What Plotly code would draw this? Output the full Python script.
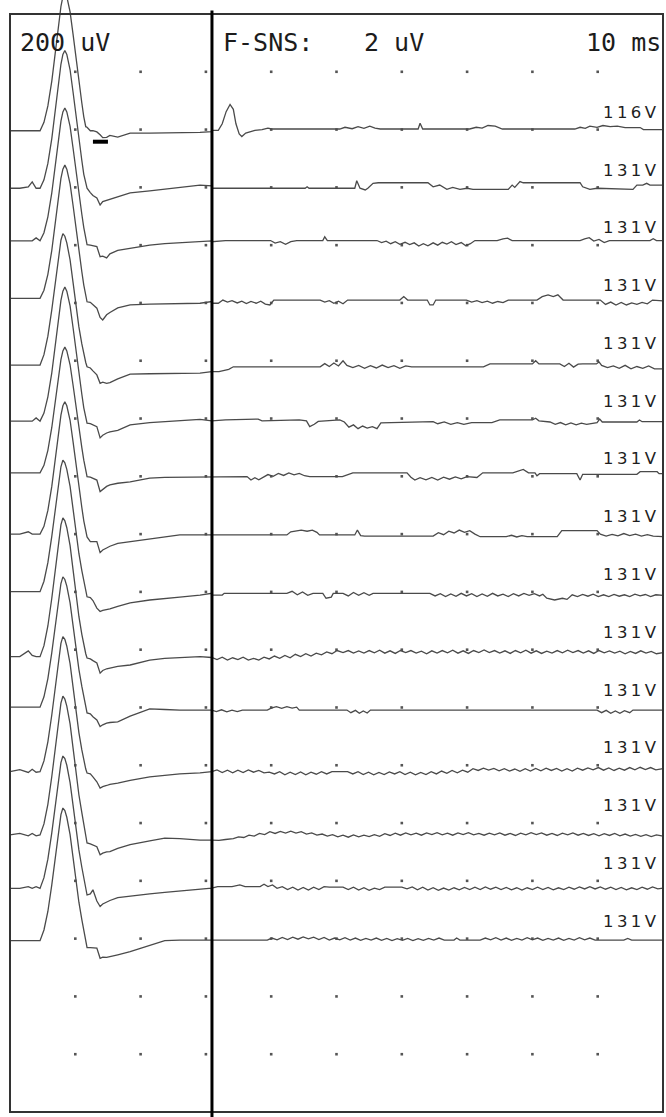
import plotly.graph_objects as go

# ---------------------------------------------------------------------------
# F-wave study: 15 consecutive sweeps, 10 ms/div, displayed at 200 uV/div
# ---------------------------------------------------------------------------
N_DIV_Y = 19          # vertical divisions of the screen
UV_PER_DIV = 200      # display gain
SWEEP_MS = 100        # 10 divisions x 10 ms

STIM_LABELS = ["116V"] + ["131V"] * 14
GAIN_TEXT = "200 uV"
F_SENS_TITLE = "F-SNS:"
F_SENS_TEXT = "2 uV"
TIMEBASE_TEXT = "10 ms"

# Divider between the M-response window and the F-wave window (ms)
F_WINDOW_START = 30.93

# Latency cursor under the first sweep: start / end time (ms), level (uV)
CURSOR_MS = [12.7, 15.0]
CURSOR_UV = -42

# Sample times (ms) for the early part of every sweep
M_TIMES = [0.0, 1.5, 2.8, 3.4, 4.0, 4.6, 5.2, 5.8, 6.4, 6.9, 7.35, 7.8, 8.1,
           8.4, 8.7, 9.2, 9.65, 10.1, 10.55, 11.0, 11.3, 11.6, 11.8, 12.3,
           12.7, 13.3, 13.8, 14.2, 14.8, 15.3, 16.5, 18.4, 21.4, 23.7, 26.0,
           29.1, 30.9]

# Early part (pre-stimulus, M-response, after-potential) in uV, one list per sweep
M_T01 = [-4, -4, -4, -4, -4,
         -4, 25, 82, 168, 259, 350, 426, 460, 474, 460, 407, 331, 245, 163, 92, 44, 10,
         8, -4, -4, -8, -18, -28, -27, -20, -26, -12, -12, -12, -12, -10, -7]
M_T02 = [-3, -3, 2, 19, -3,
         -3, 26, 83, 169, 259, 350, 426, 460, 474, 460, 407, 331, 245, 164, 93, 45, 11,
         -3, -18, -28, -37, -61, -49, -45, -40, -32, -19, -12, -6, 0, 8, 5]
M_T03 = [15, 15, 15, 15, 25,
         15, 43, 98, 181, 268, 355, 429, 461, 475, 461, 411, 337, 254, 176, 107, 61, 29,
         2, 0, -2, -5, -40, -38, -44, -30, -18, -10, 0, 5, 8, 12, 15]
M_T04 = [16, 16, 16, 16, 16,
         16, 44, 99, 182, 270, 357, 431, 463, 477, 463, 412, 339, 256, 177, 108, 62, 30,
         4, 2, -5, -18, -50, -59, -41, -33, -17, -7, -4, -3, -2, -1, 5]
M_T05 = [-15, -15, -15, -15, -15,
         -15, 21, 85, 176, 267, 349, 417, 440, 431, 408, 349, 272, 190, 117, 58, 21, -6,
         -21, -25, -35, -49, -78, -74, -78, -76, -63, -46, -45, -44, -43, -43, -38]
M_T06 = [-9, -9, -9, -9, 2,
         -9, 19, 75, 158, 246, 334, 409, 441, 455, 441, 390, 316, 232, 153, 84, 37, 5,
         -16, -18, -22, -28, -67, -58, -50, -46, -41, -22, -14, -10, -6, -3, -8]
M_T07 = [12, 12, 12, 12, 12,
         12, 38, 90, 169, 251, 334, 404, 434, 447, 434, 386, 317, 238, 164, 99, 56, 25,
         -1, -3, -8, -13, -53, -45, -35, -30, -24, -19, -6, -4, -3, -2, -2]
M_T08 = [0, 0, 8, 0, 0,
         0, 27, 82, 165, 252, 339, 412, 444, 458, 444, 394, 321, 238, 160, 92, 46, 14,
         -10, -26, -26, -26, -64, -55, -48, -42, -32, -26, -18, -10, -3, -3, -3]
M_T09 = [1, 1, 1, 1, 1,
         1, 37, 101, 192, 283, 365, 433, 456, 447, 424, 365, 288, 206, 133, 74, 37, 10,
         -17, -20, -30, -56, -68, -64, -62, -59, -50, -38, -28, -22, -18, -11, -5]
M_T10 = [-24, -24, -4, -20, -24,
         -24, 14, 82, 178, 274, 360, 432, 456, 446, 422, 360, 278, 192, 115, 53, 14, -14,
         -29, -32, -38, -46, -81, -72, -66, -63, -58, -53, -36, -30, -27, -24, -27]
M_T11 = [1, 1, 1, 1, 1,
         1, 37, 100, 190, 281, 362, 429, 452, 443, 420, 362, 285, 204, 132, 73, 37, 10,
         -19, -22, -32, -43, -66, -60, -54, -52, -50, -30, -5, -7, -9, -9, -9]
M_T12 = [-22, -15, -25, -14, -24,
         -22, 15, 81, 174, 268, 352, 422, 445, 436, 412, 352, 272, 188, 113, 53, 15, -13,
         -27, -30, -40, -57, -79, -74, -70, -66, -62, -52, -40, -35, -30, -26, -22]
M_T13 = [-41, -36, -44, -36, -44,
         -41, -3, 65, 161, 257, 343, 415, 439, 429, 405, 343, 261, 175, 98, 36, -3, -31,
         -69, -72, -76, -82, -110, -104, -100, -99, -88, -75, -62, -52, -54, -59, -59]
M_T14 = [-26, -26, -20, -26, -20,
         -26, 11, 75, 166, 258, 340, 409, 432, 423, 400, 340, 263, 180, 107, 47, 11, -17,
         -49, -45, -31, -70, -89, -80, -72, -68, -58, -52, -45, -40, -35, -29, -25]
M_T15 = [-7, -7, -7, -7, -7,
         -7, 30, 94, 186, 278, 360, 429, 452, 443, 420, 360, 282, 200, 126, 66, 30, 2,
         -31, -31, -31, -33, -68, -64, -65, -63, -56, -45, -22, -7, -5, -5, -5]

# F-wave window, (ms, uV) pairs per sweep
F_T01 = [(30.9, -3), (31.9, -3), (32.5, 20), (33.1, 62), (33.7, 87), (34.2, 70), (34.6, 20),
         (35.1, -15), (35.5, -24), (36.1, -12), (37.5, -3), (38.6, 0), (39.5, 5), (40.1, 2),
         (50.5, 2), (51.3, 8), (52.4, 3), (53.3, 10), (54.2, 4), (55.1, 12), (55.9, 5),
         (56.7, 2), (62.5, 2), (62.8, 22), (63.2, 2), (70.4, 2), (71.4, 8), (72.3, 5),
         (73.2, 14), (74.3, 12), (75.4, 2), (86.5, 2), (87.3, 8), (88.1, 4), (88.8, 12),
         (89.9, 8), (90.8, 14), (91.9, 10), (93.0, 12), (94.2, 7), (96.5, 7), (97.0, 0),
         (100.0, 0)]
F_T02 = [(30.9, -3), (45.2, -3), (45.5, 2), (45.8, -3), (52.8, -3), (53.1, 23), (53.6, -3),
         (54.4, -9), (54.8, -3), (55.6, 14), (56.4, 16), (64.0, 16), (64.8, 2), (65.8, 8),
         (66.9, -7), (67.8, 0), (68.9, -7), (70.0, -3), (70.9, -7), (76.3, -7), (76.9, 8),
         (77.3, 0), (78.1, 20), (78.6, 16), (87.3, 16), (87.7, 2), (88.8, -7), (89.9, -3),
         (95.4, -7), (96.0, 8), (96.9, 8), (97.5, 14), (98.0, 8), (100.0, 8)]
F_T03 = [(30.9, 12), (33.0, 16), (39.9, 16), (40.6, 7), (41.4, 12), (42.2, 3), (43.0, 12),
         (43.9, 16), (47.9, 16), (48.2, 29), (48.6, 16), (56.2, 16), (56.9, 9), (57.6, 14),
         (58.3, 5), (59.0, 12), (59.7, 3), (60.5, 10), (61.2, 2), (61.9, 8), (62.6, -3),
         (63.3, 5), (64.0, -2), (64.8, 8), (65.5, 0), (66.2, 10), (66.9, 4), (67.6, 12),
         (68.3, 2), (69.1, 9), (69.8, -2), (70.5, 5), (71.2, 16), (74.6, 16), (75.5, 22),
         (76.2, 24), (76.9, 16), (87.3, 16), (88.0, 22), (88.7, 26), (89.4, 14), (90.2, 20),
         (91.0, 9), (91.8, 16), (98.0, 16), (98.5, 22), (99.0, 16), (100.0, 16)]
F_T04 = [(30.9, -1), (31.9, -1), (32.6, 10), (33.3, 3), (34.0, 8), (34.8, 0), (35.5, 6),
         (36.2, -2), (36.9, 5), (37.7, -1), (38.4, 6), (39.1, -4), (39.8, -7), (40.4, 10),
         (47.5, 10), (48.2, 3), (48.9, 8), (49.6, -1), (50.3, 6), (51.0, -3), (51.7, 10),
         (59.7, 10), (60.3, 22), (60.9, 10), (63.9, 10), (64.3, -7), (64.8, -7), (65.2, 10),
         (69.9, 10), (70.7, 3), (71.5, 8), (72.3, 1), (73.1, 6), (73.9, -1), (74.7, 5),
         (75.5, 1), (76.3, 10), (80.7, 10), (81.5, 22), (82.4, 28), (83.2, 22), (83.9, 28),
         (84.7, 10), (90.4, 10), (91.2, -5), (92.0, 3), (92.8, -7), (93.6, 2), (94.4, -7),
         (95.2, 0), (96.0, -5), (96.8, 2), (97.6, -3), (98.4, 10), (100.0, 7)]
F_T05 = [(30.9, -38), (32.0, -38), (33.5, -30), (34.2, -21), (47.5, -21), (48.2, -10),
         (48.9, -20), (49.6, -8), (50.3, -18), (51.0, 0), (51.6, -16), (52.5, -24),
         (53.4, -16), (54.3, -26), (55.2, -17), (56.1, -25), (57.0, -15), (57.9, -24),
         (58.8, -17), (59.7, -26), (60.6, -18), (61.5, -21), (72.5, -21), (73.5, -11),
         (80.0, -11), (80.5, 0), (81.0, -11), (84.2, -11), (84.9, -20), (85.6, -9),
         (86.3, -22), (87.0, -12), (87.7, -11), (89.8, -11), (90.2, -4), (90.6, -16),
         (91.5, -24), (92.4, -18), (93.3, -26), (94.2, -16), (95.1, -28), (96.0, -20),
         (96.9, -26), (97.8, -18), (98.7, -28), (100.0, -28)]
F_T06 = [(30.9, -8), (33.0, -5), (38.0, -2), (38.6, -8), (44.3, -5), (45.4, -8), (45.9, -28),
         (46.6, -20), (47.2, -10), (50.5, -5), (51.2, -12), (51.9, -30), (52.6, -22),
         (53.3, -35), (54.0, -26), (54.7, -33), (55.5, -28), (56.2, -35), (56.8, -15),
         (64.8, -11), (65.5, -18), (66.5, -12), (67.5, -20), (68.5, -14), (69.5, -20),
         (70.7, -14), (73.8, -14), (75.0, -5), (80.0, -5), (80.5, 1), (81.0, -8), (82.7, -12),
         (83.5, -20), (84.3, -14), (85.1, -22), (85.9, -15), (86.7, -22), (87.5, -16),
         (88.3, -20), (89.0, -18), (89.9, -14), (90.3, -2), (90.7, -12), (96.0, -12),
         (96.4, -5), (96.8, -11), (100.0, -11)]
F_T07 = [(30.9, -1), (36.3, -1), (36.9, -13), (37.5, -5), (38.1, -12), (38.7, -3), (39.5, 6),
         (40.3, 0), (41.1, 10), (41.9, 3), (42.7, 12), (43.5, 5), (44.3, 10), (45.1, 2),
         (45.9, -1), (50.9, -1), (52.0, 8), (52.5, 12), (60.8, 12), (61.4, -3), (62.0, -13),
         (62.8, -5), (63.7, -12), (64.6, -4), (65.5, -13), (66.4, -3), (67.3, -10),
         (68.2, -2), (69.1, -9), (70.0, -1), (71.5, -4), (72.4, 12), (77.0, 12), (77.8, 18),
         (78.6, 24), (79.4, 12), (80.4, 12), (80.7, 2), (81.1, 9), (86.8, 9), (87.3, -13),
         (87.7, 7), (96.0, 7), (96.5, 16), (99.1, 16), (99.4, 9), (100.0, 9)]
F_T08 = [(30.9, -3), (42.4, -3), (43.0, 8), (43.8, 12), (44.6, 14), (45.5, 10), (46.3, 14),
         (47.0, 6), (47.4, -3), (52.8, -3), (53.2, 14), (53.7, -5), (54.3, -7), (64.8, -7),
         (65.6, 5), (66.4, -2), (67.2, 10), (68.0, 4), (68.8, 14), (69.6, 6), (70.4, 12),
         (71.2, 0), (72.0, -9), (76.0, -9), (76.8, -4), (77.6, -10), (78.4, -5), (79.2, -9),
         (83.8, -9), (84.5, 12), (89.9, 12), (90.4, 0), (91.3, -7), (92.2, -1), (93.1, -6),
         (94.0, 2), (94.9, -5), (95.8, 0), (96.7, -7), (97.6, -2), (98.5, -7), (100.0, -9)]
F_T09 = [(30.9, -11), (32.5, -11), (32.8, -5), (42.4, -5), (43.2, 2), (44.0, -10), (44.8, 0),
         (45.6, -12), (46.4, -5), (47.9, -5), (48.4, -22), (49.2, -18), (49.5, -5), (51.0, -5),
         (51.8, -14), (52.6, -2), (53.4, -12), (54.2, -3), (55.0, -12), (55.6, -5), (64.3, -5),
         (65.1, -14), (65.9, -6), (66.7, -16), (67.5, -7), (68.3, -15), (69.1, -5),
         (69.9, -14), (70.7, -6), (71.5, -16), (72.3, -7), (73.1, -15), (73.9, -5),
         (74.7, -14), (75.5, -8), (76.3, -16), (77.1, -6), (77.9, -14), (78.7, -5),
         (79.5, -12), (80.3, -6), (81.1, -14), (81.6, -8), (82.2, -22), (83.4, -28),
         (84.6, -22), (85.3, -26), (86.1, -10), (86.9, -16), (87.7, -9), (88.5, -15),
         (89.3, -8), (90.1, -16), (90.9, -10), (91.7, -16), (92.5, -9), (93.3, -15),
         (94.1, -10), (94.9, -16), (95.7, -8), (96.5, -14), (97.3, -9), (98.1, -16),
         (98.9, -10), (100.0, -12)]
F_T10 = [(30.9, -27), (31.7, -34), (32.5, -26), (33.3, -36), (34.1, -28), (34.9, -34),
         (35.7, -26), (36.5, -36), (37.3, -30), (38.1, -36), (38.9, -26), (39.7, -32),
         (40.5, -22), (41.3, -30), (42.1, -20), (42.9, -28), (43.7, -16), (44.5, -24),
         (45.3, -14), (46.1, -22), (46.9, -12), (47.7, -18), (48.5, -8), (49.3, -14),
         (50.1, -3), (51.0, -10), (51.8, -3), (52.6, -12), (53.4, -4), (54.2, -12),
         (55.0, -3), (55.8, -11), (56.6, -2), (57.4, -12), (58.2, -4), (59.0, -13),
         (59.8, -3), (60.6, -10), (61.4, -3), (62.2, -12), (63.0, -5), (63.8, -14),
         (64.6, -4), (65.4, -12), (66.2, -3), (67.0, -11), (67.8, -2), (68.6, -12),
         (69.4, -4), (70.2, -13), (71.0, -3), (71.8, -10), (72.6, -1), (73.4, -10),
         (74.2, -3), (75.0, -12), (75.8, -4), (76.6, -13), (77.4, -3), (78.2, -11),
         (79.0, -2), (79.8, -12), (80.6, -4), (81.4, -13), (82.2, -5), (83.0, -12),
         (83.8, -3), (84.6, -11), (85.4, -2), (86.2, -10), (87.0, -3), (87.8, -12),
         (88.6, -4), (89.4, -13), (90.2, -3), (91.0, -11), (91.8, -4), (92.6, -12),
         (93.4, -5), (94.2, -14), (95.0, -6), (95.8, -13), (96.6, -4), (97.4, -12),
         (98.2, -6), (99.0, -14), (100.0, -10)]
F_T11 = [(30.9, -9), (31.6, -14), (32.4, -8), (33.2, -15), (34.0, -9), (34.8, -14), (35.6, -9),
         (39.4, -9), (40.0, -2), (40.8, 3), (41.6, -3), (42.4, 3), (43.2, -2), (43.9, 1),
         (44.3, -9), (51.6, -9), (52.2, -18), (52.9, -10), (53.5, -20), (54.1, -12),
         (54.7, -19), (55.2, -9), (89.9, -9), (90.6, -18), (91.3, -10), (92.0, -20),
         (92.7, -12), (93.4, -20), (94.1, -11), (94.9, -18), (95.4, -9), (100.0, -9)]
F_T12 = [(30.9, -22), (31.7, -16), (32.5, -25), (33.3, -17), (34.1, -26), (34.9, -17),
         (35.7, -25), (36.5, -16), (37.3, -24), (38.1, -18), (38.9, -26), (39.7, -24),
         (40.5, -30), (41.3, -22), (42.1, -33), (42.9, -24), (43.7, -32), (44.5, -23),
         (45.3, -33), (46.1, -24), (46.9, -31), (47.7, -22), (48.5, -30), (49.3, -22),
         (51.7, -22), (52.5, -30), (53.3, -22), (54.1, -32), (54.9, -24), (55.7, -33),
         (56.5, -25), (57.3, -32), (58.1, -23), (58.9, -30), (59.7, -22), (60.5, -32),
         (61.3, -24), (62.1, -33), (62.9, -25), (63.7, -32), (64.5, -22), (65.3, -30),
         (66.1, -20), (66.9, -28), (67.7, -18), (68.5, -26), (69.3, -17), (70.1, -24),
         (70.9, -12), (71.7, -18), (72.5, -10), (73.3, -17), (74.1, -11), (74.9, -19),
         (75.7, -12), (76.5, -20), (77.3, -13), (78.1, -21), (78.9, -12), (79.7, -20),
         (80.5, -11), (81.3, -19), (82.1, -10), (82.9, -18), (83.7, -11), (84.5, -20),
         (85.3, -12), (86.1, -20), (86.9, -10), (87.7, -17), (88.5, -9), (89.3, -16),
         (90.1, -8), (90.9, -17), (91.7, -9), (92.5, -18), (93.3, -10), (94.1, -17),
         (94.9, -8), (95.7, -16), (96.5, -7), (97.3, -15), (98.1, -8), (98.9, -16),
         (100.0, -12)]
F_T13 = [(30.9, -59), (32.0, -60), (33.0, -57), (34.2, -54), (35.0, -48), (35.8, -50),
         (36.6, -42), (37.4, -45), (38.2, -36), (39.0, -40), (39.8, -30), (40.6, -36),
         (41.4, -29), (42.2, -35), (43.0, -28), (43.8, -35), (44.6, -30), (45.4, -38),
         (46.2, -34), (47.0, -42), (47.8, -38), (48.6, -45), (49.4, -40), (50.2, -48),
         (51.0, -42), (51.8, -49), (52.6, -41), (53.4, -48), (54.2, -42), (55.0, -47),
         (55.8, -40), (56.6, -46), (57.4, -37), (58.2, -43), (59.0, -35), (59.8, -42),
         (60.6, -34), (61.4, -41), (62.2, -35), (63.0, -42), (63.8, -34), (64.6, -40),
         (65.4, -33), (66.2, -41), (67.0, -35), (67.8, -42), (68.6, -34), (69.4, -40),
         (70.2, -33), (71.0, -41), (71.8, -36), (72.6, -42), (73.4, -35), (74.2, -41),
         (75.0, -34), (75.8, -42), (76.6, -36), (77.4, -43), (78.2, -35), (79.0, -41),
         (79.8, -33), (80.6, -40), (81.4, -34), (82.2, -42), (83.0, -36), (83.8, -43),
         (84.6, -35), (85.4, -41), (86.2, -34), (87.0, -42), (87.8, -36), (88.6, -43),
         (89.4, -37), (90.2, -44), (91.0, -37), (91.8, -43), (92.6, -36), (93.4, -44),
         (94.2, -38), (95.0, -45), (95.8, -39), (96.6, -46), (97.4, -40), (98.2, -47),
         (99.0, -41), (100.0, -45)]
F_T14 = [(30.9, -25), (31.8, -20), (34.0, -20), (35.2, -14), (36.0, -20), (38.3, -20),
         (38.9, -12), (39.5, -20), (40.2, -14), (40.9, -26), (41.7, -20), (42.5, -30),
         (43.3, -22), (44.1, -32), (44.9, -23), (45.7, -32), (46.5, -22), (47.3, -30),
         (48.1, -20), (48.9, -22), (51.0, -22), (51.8, -30), (52.6, -22), (53.4, -32),
         (54.2, -24), (55.0, -33), (55.8, -25), (56.6, -30), (57.4, -22), (60.0, -22),
         (60.8, -28), (61.6, -21), (62.4, -31), (63.2, -22), (64.0, -32), (64.8, -24),
         (65.6, -33), (66.4, -25), (67.2, -32), (68.0, -24), (68.8, -31), (69.6, -23),
         (70.4, -30), (71.2, -22), (72.0, -30), (72.8, -21), (73.6, -29), (74.4, -22),
         (75.2, -30), (76.0, -23), (76.8, -31), (77.6, -24), (78.4, -32), (79.2, -24),
         (80.0, -30), (80.8, -22), (81.6, -30), (82.4, -23), (83.2, -31), (84.0, -24),
         (84.8, -30), (85.6, -22), (86.4, -29), (87.2, -21), (88.0, -28), (88.8, -20),
         (89.6, -28), (90.4, -21), (91.2, -29), (92.0, -22), (92.8, -30), (93.6, -23),
         (94.4, -31), (95.2, -24), (96.0, -30), (96.8, -22), (97.6, -29), (98.4, -21),
         (99.2, -28), (100.0, -25)]
F_T15 = [(30.9, -5), (39.4, -5), (40.1, 2), (40.9, -4), (41.7, 4), (42.5, -3), (43.3, 5),
         (44.1, -2), (44.9, 6), (45.7, -1), (46.5, 5), (47.3, -3), (48.1, 4), (48.9, -5),
         (49.7, 2), (50.5, -4), (51.3, 3), (52.1, -5), (52.9, 2), (53.7, -6), (54.5, 1),
         (55.3, -5), (56.1, 2), (56.9, -6), (57.7, 1), (58.5, -7), (59.3, 0), (60.1, -6),
         (60.9, 1), (61.7, -7), (62.5, 0), (63.3, -6), (64.1, 1), (64.9, -5), (65.7, 2),
         (66.5, -5), (68.0, -5), (68.4, 2), (68.9, -5), (72.0, -5), (72.8, 2), (73.6, -4),
         (74.4, 3), (75.2, -5), (76.0, 2), (76.8, -6), (77.6, 1), (78.4, -5), (79.2, 3),
         (80.0, -4), (80.8, 2), (81.6, -6), (82.4, 1), (83.2, -5), (84.0, 2), (84.8, -6),
         (85.6, 1), (86.4, -5), (87.2, 3), (88.0, -4), (88.8, 2), (89.6, -5), (94.0, -5),
         (94.6, 1), (95.2, -5), (100.0, -5)]

M_SWEEPS = [M_T01, M_T02, M_T03, M_T04, M_T05, M_T06, M_T07, M_T08,
            M_T09, M_T10, M_T11, M_T12, M_T13, M_T14, M_T15]
F_SWEEPS = [F_T01, F_T02, F_T03, F_T04, F_T05, F_T06, F_T07, F_T08,
            F_T09, F_T10, F_T11, F_T12, F_T13, F_T14, F_T15]

# Screen layout (pixels) used to place the axes over the whole page
W, H = 666, 1117
FRAME_LEFT, FRAME_RIGHT, FRAME_TOP, FRAME_BOTTOM = 10, 663, 14, 1112

px_per_ms = (FRAME_RIGHT - FRAME_LEFT) / SWEEP_MS
frame_uv = N_DIV_Y * UV_PER_DIV
px_per_uv = (FRAME_BOTTOM - FRAME_TOP) / frame_uv
x_range = [-FRAME_LEFT / px_per_ms, (W - FRAME_LEFT) / px_per_ms]
y_range = [-(H - FRAME_BOTTOM) / px_per_uv, frame_uv + FRAME_TOP / px_per_uv]

TRACE_COLOR = "#4a4a4a"
INK = "#1c1c1c"

fig = go.Figure()

# Division dots
dot_x, dot_y = [], []
for k in range(1, N_DIV_Y):
    for t in range(10, SWEEP_MS, 10):
        dot_x.append(t)
        dot_y.append(k * UV_PER_DIV)
fig.add_trace(go.Scatter(x=dot_x, y=dot_y, mode="markers",
                         marker=dict(size=2.6, color="#555555", symbol="square"),
                         hoverinfo="skip", showlegend=False))

# Sweeps, stacked one division apart, first sweep at the top
annotations = []
for i, (m_vals, f_pts) in enumerate(zip(M_SWEEPS, F_SWEEPS)):
    base = (N_DIV_Y - 2 - i) * UV_PER_DIV
    t = M_TIMES + [p[0] for p in f_pts]
    v = m_vals + [p[1] for p in f_pts]
    fig.add_trace(go.Scatter(x=t, y=[base + a for a in v], mode="lines",
                             line=dict(color=TRACE_COLOR, width=1.3),
                             hoverinfo="skip", showlegend=False))
    annotations.append(dict(
        x=99.75, y=base + 60, xref="x", yref="y", xanchor="right", yanchor="middle",
        text='<span style="letter-spacing:3.4px">%s</span>' % STIM_LABELS[i],
        showarrow=False, font=dict(family="DejaVu Sans, Verdana, sans-serif",
                                   size=16.5, color="#1e1e1e")))

# Latency cursor below the first sweep
top_base = (N_DIV_Y - 2) * UV_PER_DIV
fig.add_trace(go.Scatter(x=CURSOR_MS, y=[top_base + CURSOR_UV] * 2, mode="lines",
                         line=dict(color="#000000", width=4),
                         hoverinfo="skip", showlegend=False))

# Header texts
mono = dict(family="DejaVu Sans Mono, Liberation Mono, monospace", size=25, color=INK)
def header(text, x_px, anchor):
    return dict(x=x_px / W, y=1 - 42 / H, xref="paper", yref="paper",
                xanchor=anchor, yanchor="middle", text=text, showarrow=False,
                font=mono)

annotations += [header(GAIN_TEXT, 18, "left"),
                header(F_SENS_TITLE, 221, "left"),
                header(F_SENS_TEXT, 362, "left"),
                header(TIMEBASE_TEXT, 663, "right")]

shapes = [
    # screen frame
    dict(type="rect", xref="x", yref="y", x0=0, x1=SWEEP_MS, y0=0, y1=frame_uv,
         line=dict(color="#333333", width=2), layer="above"),
    # F-window divider
    dict(type="line", xref="x", yref="y", x0=F_WINDOW_START, x1=F_WINDOW_START,
         y0=y_range[0], y1=frame_uv + 12, line=dict(color="#000000", width=3),
         layer="above"),
]

fig.update_layout(
    width=W, height=H,
    margin=dict(l=0, r=0, t=0, b=0),
    paper_bgcolor="white", plot_bgcolor="white",
    xaxis=dict(range=x_range, visible=False, fixedrange=True),
    yaxis=dict(range=y_range, visible=False, fixedrange=True),
    shapes=shapes, annotations=annotations,
    showlegend=False,
)

fig.write_html("out.html")
